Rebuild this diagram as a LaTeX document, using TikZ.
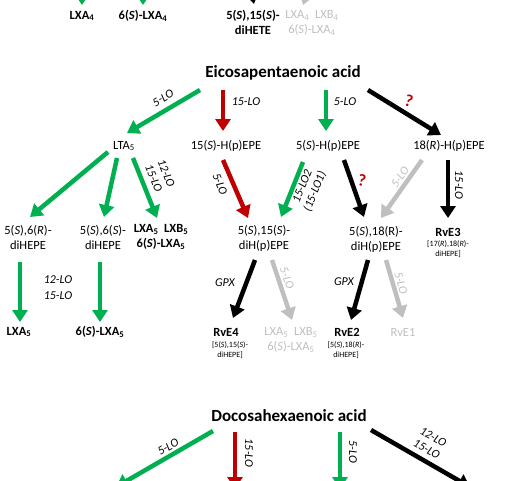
\documentclass[tikz,border=0pt]{standalone}
\usepackage{fontspec}
\setmainfont{Carlito}
\usetikzlibrary{arrows.meta}
\definecolor{lgreen}{HTML}{00B050}
\definecolor{dred}{HTML}{C00000}
\definecolor{lgrey}{HTML}{BFBFBF}
\tikzset{
  arr/.style={line width=4.5pt,-{Triangle[width=15pt,length=12pt]}},
  garr/.style={arr,draw=lgreen},
  rarr/.style={arr,draw=dred},
  karr/.style={arr,draw=black},
  yarr/.style={arr,draw=lgrey},
  txt/.style={font=\fontsize{12.5}{15}\selectfont,inner sep=1pt,align=center},
  btxt/.style={font=\fontsize{12.5}{15}\selectfont\bfseries,inner sep=1pt,align=center},
  title/.style={font=\fontsize{17}{20}\selectfont\bfseries,inner sep=1pt},
  lab/.style={font=\fontsize{12}{13.5}\selectfont\itshape,inner sep=0pt,align=center},
  small/.style={font=\fontsize{8}{10}\selectfont,inner sep=0pt,align=center},
  qmark/.style={font=\fontsize{17}{20}\selectfont\bfseries,text=dred,inner sep=0pt}
}
\newcommand{\Sx}{(\textit{S})}
\newcommand{\Rx}{(\textit{R})}
\begin{document}
\begin{tikzpicture}[x=1pt,y=-1pt]
\useasboundingbox (0,0) rectangle (512,480);
\clip (0,0) rectangle (512,480);
% top partial row
\node[btxt] (LXA4) at (82,16) {LXA\textsubscript{4}};
\node[btxt] (sLXA4) at (143,16) {6\Sx-LXA\textsubscript{4}};
\node[btxt] (diHETE) at (253,22) {5\Sx,15\Sx-\\diHETE};
\node[txt,text=lgrey] (gLX4) at (312,23) {LXA\textsubscript{4}\ \ LXB\textsubscript{4}\\6\Sx-LXA\textsubscript{4}};
\coordinate (t1) at (82,-20);
\coordinate (t2) at (143,-20);
\coordinate (t3) at (249,-20);
\coordinate (t4) at (311,-20);
\draw[garr] (t1) -- ([shift={(0,-11)}]LXA4.center);
\draw[garr] (t2) -- ([shift={(0,-11)}]sLXA4.center);
\draw[karr] (t3) -- ([shift={(1,-18)}]diHETE.center);
\draw[yarr] (t4) -- ([shift={(-9,-18)}]gLX4.center);
% EPA
\node[title] (EPA) at (283,73) {Eicosapentaenoic acid};
\node[txt] (LTA) at (124,146) {LTA\textsubscript{5}};
\node[txt] (H15) at (226,146) {15\Sx-H(p)EPE};
\node[txt] (H5) at (328,146) {5\Sx-H(p)EPE};
\node[txt] (H18) at (449,146) {18\Rx-H(p)EPE};
\draw[garr] ([shift={(-83,17)}]EPA.center) -- ([shift={(3,-13)}]LTA.center);
\draw[rarr] ([shift={(-60,17)}]EPA.center) -- ([shift={(-3,-15)}]H15.center);
\draw[garr] ([shift={(43,17)}]EPA.center) -- ([shift={(-2,-15)}]H5.center);
\draw[karr] ([shift={(85,17)}]EPA.center) -- ([shift={(-8,-11)}]H18.center);
\node[lab,rotate=31] (l1) at (163,98) {5-LO};
\node[lab] (l2) at (246,102) {15-LO};
\node[lab] (l3) at (345,102) {5-LO};
\node[qmark,rotate=-15] (q1) at (409,101) {?};
% row 3
\node[txt] (R6) at (28,237) {5\Sx,6\Rx-\\diHEPE};
\node[txt] (S6) at (103,237) {5\Sx,6\Sx-\\diHEPE};
\node[btxt] (LX5) at (161,237) {LXA\textsubscript{5}\ \ LXB\textsubscript{5}\\6\Sx-LXA\textsubscript{5}};
\node[txt] (D15) at (264,238) {5\Sx,15\Sx-\\diH(p)EPE};
\node[txt] (D18) at (376,239) {5\Sx,18(R)-\\diH(p)EPE};
\node[btxt] (RvE3) at (448,232) {RvE3};
\node[small] (RvE3b) at (448,249) {[17\Rx,18\Rx-\\diHEPE]};
\draw[garr] ([shift={(-16,6)}]LTA.center) -- ([shift={(2,-20)}]R6.center);
\draw[garr] ([shift={(-7,12)}]LTA.center) -- ([shift={(1,-20)}]S6.center);
\draw[garr] ([shift={(9,12)}]LTA.center) -- ([shift={(-4,-19)}]LX5.center);
\draw[rarr] ([shift={(-3,14)}]H15.center) -- ([shift={(-16,-20)}]D15.center);
\draw[garr] ([shift={(-25,16)}]H5.center) -- ([shift={(17,-21)}]D15.center);
\draw[karr] ([shift={(16,14)}]H5.center) -- ([shift={(-12,-22)}]D18.center);
\draw[yarr] ([shift={(-27,14)}]H18.center) -- ([shift={(5,-21)}]D18.center);
\draw[karr] ([shift={(-1,14)}]H18.center) -- ([shift={(0,-14)}]RvE3.center);
\node[lab,rotate=-68] (l4) at (160,176) {12-LO\\15-LO};
\node[lab,rotate=-68] (l5) at (220,184) {5-LO};
\node[lab,rotate=68] (l6) at (309,189) {15-LO2\\(15-LO1)};
\node[qmark,rotate=-10] (q2) at (362,180) {?};
\node[lab,rotate=55,text=lgrey] (l7) at (400,177) {5-LO};
\node[lab,rotate=-90] (l8) at (459,185) {15-LO};
% row 4
\node[btxt] (LXA5) at (19,332) {LXA\textsubscript{5}};
\node[btxt] (sLXA5) at (100,332) {6\Sx-LXA\textsubscript{5}};
\node[btxt] (RvE4) at (226,332) {RvE4};
\node[small] (RvE4b) at (230,350) {[5\Sx,15\Sx-\\diHEPE]};
\node[txt,text=lgrey] (gLX5) at (291,340) {LXA\textsubscript{5}\ \ LXB\textsubscript{5}\\6\Sx-LXA\textsubscript{5}};
\node[btxt] (RvE2) at (347,332) {RvE2};
\node[small] (RvE2b) at (346,350) {[5\Sx,18\Rx-\\diHEPE]};
\node[txt,text=lgrey] (RvE1) at (403,332) {RvE1};
\draw[garr] ([shift={(-8,25)}]R6.center) -- ([shift={(1,-10)}]LXA5.center);
\draw[garr] ([shift={(-3,25)}]S6.center) -- ([shift={(0,-10)}]sLXA5.center);
\draw[karr] ([shift={(-9,22)}]D15.center) -- ([shift={(7,-14)}]RvE4.center);
\draw[yarr] ([shift={(8,22)}]D15.center) -- ([shift={(1,-20)}]gLX5.center);
\draw[karr] ([shift={(-8,21)}]D18.center) -- ([shift={(4,-12)}]RvE2.center);
\draw[yarr] ([shift={(10,21)}]D18.center) -- ([shift={(0,-14)}]RvE1.center);
\node[lab] (l9) at (58,280) {12-LO};
\node[lab] (l10) at (58,296) {15-LO};
\node[lab] (l11) at (225,283) {GPX};
\node[lab,rotate=-70,text=lgrey] (l12) at (287,278) {5-LO};
\node[lab] (l13) at (344,282) {GPX};
\node[lab,rotate=-74,text=lgrey] (l14) at (401,283) {5-LO};
% DHA
\node[title] (DHA) at (289,416) {Docosahexaenoic acid};
\coordinate (e1) at (116,487);
\coordinate (e2) at (235,489);
\coordinate (e3) at (340,489);
\coordinate (e4) at (470,487);
\draw[garr] ([shift={(-76,15)}]DHA.center) -- (e1);
\draw[rarr] ([shift={(-54,16)}]DHA.center) -- (e2);
\draw[garr] ([shift={(51,16)}]DHA.center) -- (e3);
\draw[karr] ([shift={(82,14)}]DHA.center) -- (e4);
\node[lab,rotate=30] (l15) at (168,447) {5-LO};
\node[lab,rotate=-90] (l16) at (249,453) {15-LO};
\node[lab,rotate=-90] (l17) at (353,452) {5-LO};
\node[lab,rotate=-29] (l18) at (430,443) {12-LO\\15-LO};
\end{tikzpicture}
\end{document}
